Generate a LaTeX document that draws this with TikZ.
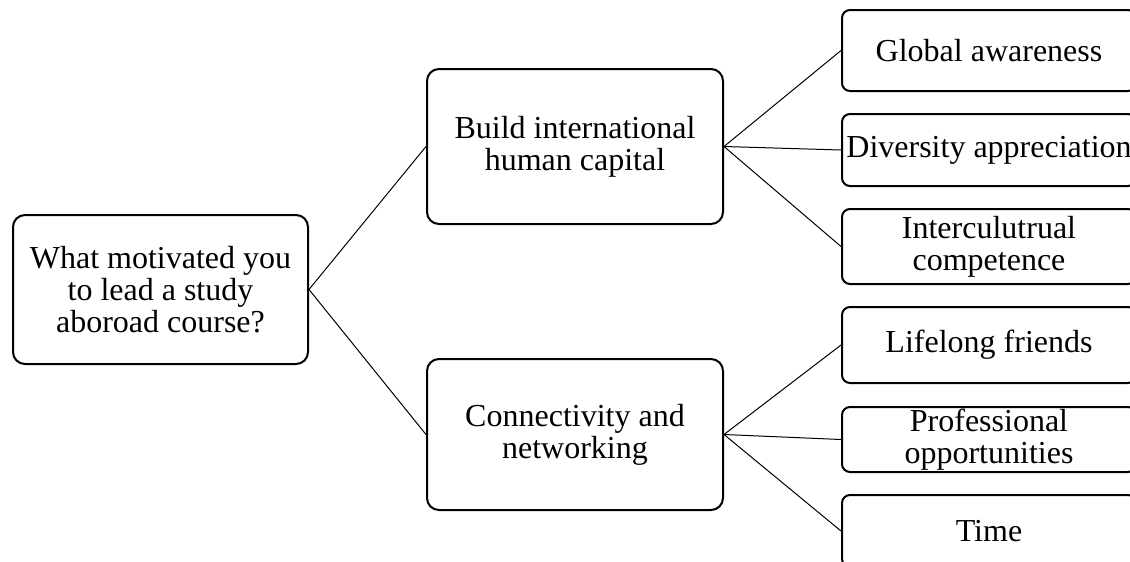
\documentclass[tikz,border=0pt]{standalone}
\usepackage{fontspec}
\setmainfont{Liberation Serif}
\begin{document}
\begin{tikzpicture}[x=0.75pt,y=-0.75pt,
  box/.style={draw=black,line width=1.5pt,rounded corners=9pt,align=center,inner sep=0pt,
    font=\fontsize{24}{24}\selectfont},
  leaf/.style={box,rounded corners=6pt,minimum width=220.5pt},
  link/.style={draw=black,line width=0.75pt}]
\useasboundingbox (0,0) rectangle (1130,561);
\clip (0,0) rectangle (1130,561);
\node[box,minimum width=221.25pt,minimum height=111.75pt] (root) at (160.5,289.5) {What motivated you\\to lead a study\\aboroad course?};
\node[box,minimum width=222pt,minimum height=116.25pt] (m1) at (575,146.5) {Build international\\human capital};
\node[box,minimum width=222pt,minimum height=113.25pt] (m2) at (575,434.5) {Connectivity and\\networking};
\node[leaf,minimum height=60.75pt] (l1) at (989,50.5) {Global awareness};
\node[leaf,minimum height=54pt] (l2) at (989,150) {Diversity appreciation};
\node[leaf,minimum height=56.25pt] (l3) at (989,246.5) {Interculutrual\\competence};
\node[leaf,minimum height=57pt] (l4) at (989,345) {Lifelong friends};
\node[leaf,minimum height=48.75pt] (l5) at (989,439.5) {Professional\\opportunities};
\node[leaf,minimum height=54pt] (l6) at (989,531) {Time};
\draw[link] (m1.west) -- (root.east) -- (m2.west);
\draw[link] (l1.west) -- (m1.east) -- (l2.west);
\draw[link] (m1.east) -- (l3.west);
\draw[link] (l4.west) -- (m2.east) -- (l5.west);
\draw[link] (m2.east) -- (l6.west);
\end{tikzpicture}
\end{document}
